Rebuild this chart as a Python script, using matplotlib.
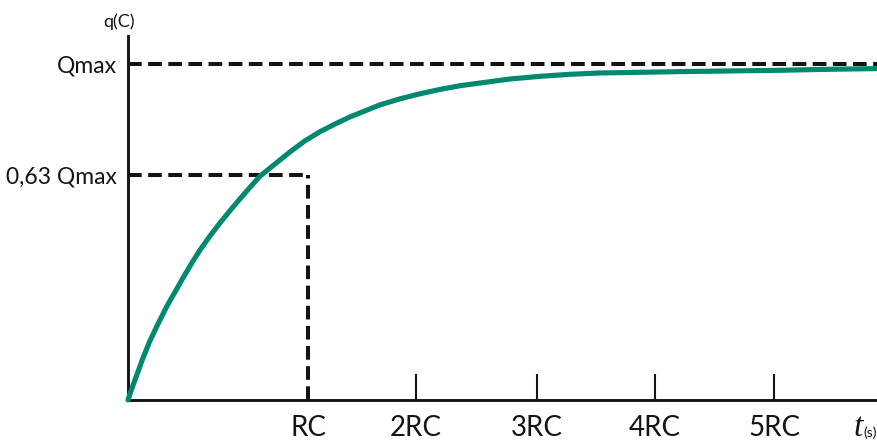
import matplotlib
matplotlib.use("Agg")
import matplotlib.pyplot as plt

# charge curve (t in RC-ish units, q as fraction of Qmax)
t = [0.0, 0.025, 0.068, 0.127, 0.186, 0.254, 0.331, 0.398, 0.466, 0.542,
     0.610, 0.695, 0.780, 0.890, 1.000, 1.119, 1.246, 1.373, 1.500, 1.627,
     1.754, 1.881, 2.008, 2.136, 2.305, 2.475, 2.644, 2.814, 2.983, 3.237,
     3.492, 3.746, 4.000, 4.339, 4.678, 5.102, 5.525, 5.949, 6.347]
q = [0.0, 0.027, 0.068, 0.125, 0.176, 0.226, 0.280, 0.321, 0.363, 0.408,
     0.446, 0.488, 0.527, 0.574, 0.619, 0.666, 0.702, 0.738, 0.771, 0.798,
     0.821, 0.842, 0.860, 0.878, 0.896, 0.911, 0.924, 0.935, 0.943, 0.955,
     0.963, 0.969, 0.973, 0.975, 0.977, 0.979, 0.981, 0.984, 0.986]

tick_pos = [1.53, 2.44, 3.47, 4.47, 5.48]
tick_labels = ['RC', '2RC', '3RC', '4RC', '5RC']
qmax_level = 1.0
q63_level = 0.670
ylevels = [q63_level, qmax_level]
ylabels = ['0,63 Qmax', 'Qmax']

font = 'Lato'
teal = '#00896f'
ink = '#141414'

fig = plt.figure(figsize=(8.77, 4.46), dpi=100)
ax = fig.add_axes([128/877, 46/446, 749/877, 364/446])
ax.set_xlim(0, 6.35)
ax.set_ylim(0, 1.083)

for s in ['top', 'right']:
    ax.spines[s].set_visible(False)
for s in ['left', 'bottom']:
    ax.spines[s].set_linewidth(2.1)
    ax.spines[s].set_color(ink)

dash = dict(color=ink, linewidth=2.9, dashes=(3.4, 1.6), solid_capstyle='butt')
ax.plot([0, 6.35], [qmax_level, qmax_level], **dash, zorder=1)
ax.plot([0, tick_pos[0]], [q63_level, q63_level], **dash, zorder=1)
ax.plot([tick_pos[0], tick_pos[0]], [0, q63_level], **dash, zorder=1)

ax.plot(t, q, color=teal, linewidth=3.7, solid_capstyle='round',
        solid_joinstyle='round', zorder=3, clip_on=False)

ax.set_xticks(tick_pos)
ax.set_xticklabels(tick_labels, fontfamily=font, fontsize=20, color=ink)
ax.tick_params(axis='x', direction='in', length=19, width=1.5, color=ink, pad=11)
ax.xaxis.get_major_ticks()[0].tick1line.set_visible(False)

ax.set_yticks(ylevels)
ax.set_yticklabels(ylabels, fontfamily=font, fontsize=16.5, color=ink)
ax.tick_params(axis='y', length=0, pad=8)

fig.text(119/877, 1 - 22/446, 'q(C)', fontfamily=font, fontsize=13,
         ha='center', va='center', color=ink)
fig.text(863/877, 1 - 428/446, 't', fontfamily='Liberation Serif', style='italic',
         fontsize=24, ha='right', va='center', color=ink)
fig.text(863/877, 1 - 433/446, '(s)', fontfamily=font, fontsize=10,
         ha='left', va='center', color=ink)

fig.savefig('out.png', dpi=100)
